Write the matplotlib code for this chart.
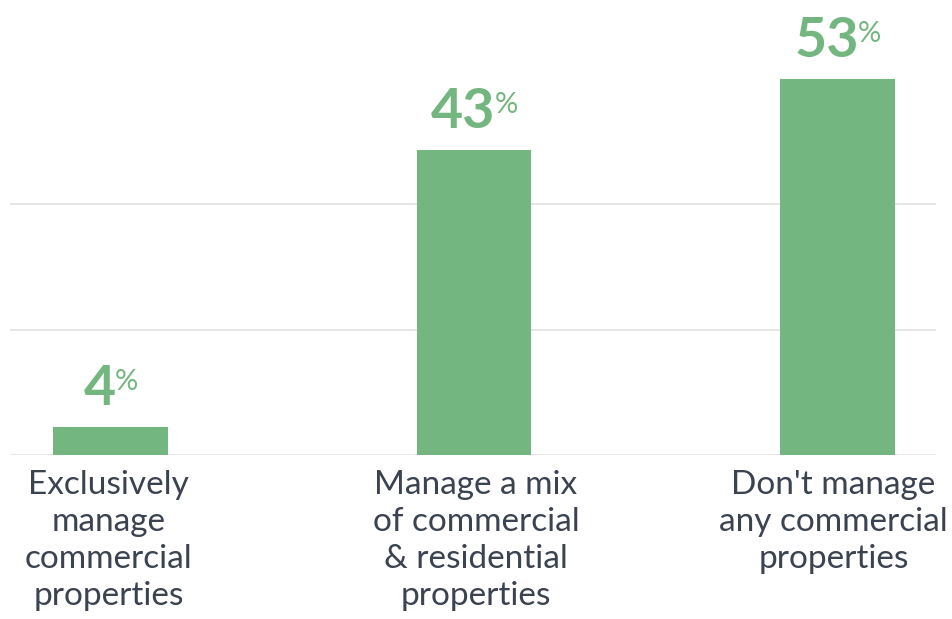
import matplotlib.pyplot as plt

# survey shares
categories = ['Exclusively\nmanage\ncommercial\nproperties',
              'Manage a mix\nof commercial\n& residential\nproperties',
              "Don't manage\nany commercial\nproperties"]
values = [4, 43, 53]
grid_values = [0, 17.67, 35.33]

green = '#74b67f'
text_col = '#3b4250'

fig = plt.figure(figsize=(9.53, 6.19), dpi=100)
ax = fig.add_axes([10 / 953, (619 - 455) / 619, 926 / 953, 455 / 619])

x = list(range(len(values)))
ax.bar(x, values, width=0.316, color=green, zorder=2)

for g in grid_values:
    ax.axhline(g, color='#e2e2e2', lw=1.2, zorder=1)

ax.set_xlim(-0.2765, 2.271)
ax.set_ylim(0, 64.15)
ax.axis('off')

# category labels under the bars (small horizontal nudges)
label_dx = [-2, 2, -4]
for xi, lab, dx in zip(x, categories, label_dx):
    ax.annotate(lab, (xi, 0), xytext=(dx, -15), textcoords='offset pixels',
                ha='center', va='top', fontsize=24, color=text_col,
                family='Lato', linespacing=1.29)

# value labels: big number with a small raised percent sign
renderer = fig.canvas.get_renderer()
for xi, v in zip(x, values):
    num = ax.annotate(str(v), (xi, v), xytext=(0, 22), textcoords='offset pixels',
                      ha='center', va='baseline', fontsize=40, color=green,
                      family='Lato', fontweight='bold')
    pct = ax.annotate('%', (xi, v), xytext=(0, 37), textcoords='offset pixels',
                      ha='left', va='baseline', fontsize=21, color=green,
                      family='Lato')
    w1 = num.get_window_extent(renderer).width
    w2 = pct.get_window_extent(renderer).width
    num.set_position((-w2 / 2 + 1, 22))
    pct.set_position((w1 / 2 - w2 / 2, 37))

fig.savefig('out.png', dpi=100)
